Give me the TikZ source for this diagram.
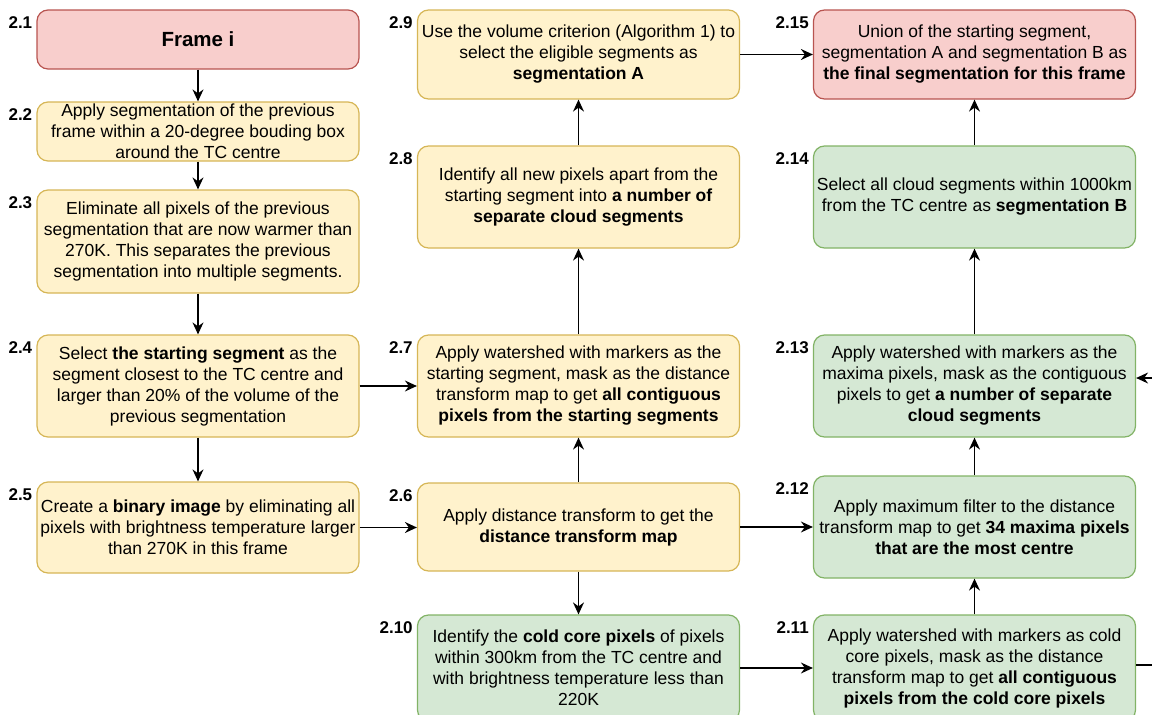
\documentclass[tikz,border=0pt]{standalone}
\usepackage{fontspec}
\setmainfont{Liberation Sans}
\usetikzlibrary{arrows.meta,calc}
\definecolor{yfill}{HTML}{FFF2CC}
\definecolor{yline}{HTML}{D6B656}
\definecolor{rfill}{HTML}{F8CECC}
\definecolor{rline}{HTML}{B85450}
\definecolor{gfill}{HTML}{D5E8D4}
\definecolor{gline}{HTML}{82B366}
\tikzset{
  box/.style={draw, rounded corners=11pt, line width=1.2pt, minimum width=322pt,
    align=center, inner sep=1pt, font=\fontsize{17.5}{21}\selectfont},
  ybox/.style={box, fill=yfill, draw=yline},
  rbox/.style={box, fill=rfill, draw=rline},
  gbox/.style={box, fill=gfill, draw=gline},
  lab/.style={anchor=east, font=\fontsize{17}{19}\selectfont\bfseries, inner sep=0pt},
  arr/.style={draw=black, line width=1.4pt, -{Stealth[length=12pt,width=11pt,inset=4pt]}}
}
\begin{document}
\begin{tikzpicture}[x=1pt,y=-1pt]
\useasboundingbox (0,0) rectangle (1152,715);
% column 1
\node[rbox, minimum height=59pt, font=\fontsize{20.5}{24}\selectfont] (n1) at (198,39.5) {\textbf{Frame i}};
\node[ybox, minimum height=59pt] (n2) at (198,131.5) {Apply segmentation of the previous\\frame within a 20-degree bouding box\\around the TC centre};
\node[ybox, minimum height=103pt] (n3) at (198,241.5) {Eliminate all pixels of the previous\\segmentation that are now warmer than\\270K. This separates the previous\\segmentation into multiple segments.};
\node[ybox, minimum height=102pt] (n4) at (198,386) {Select \textbf{the starting segment} as the\\segment closest to the TC centre and\\larger than 20\% of the volume of the\\previous segmentation};
\node[ybox, minimum height=91pt] (n5) at (198,527.5) {Create a \textbf{binary image} by eliminating all\\pixels with brightness temperature larger\\than 270K in this frame};
% column 2
\node[ybox, minimum height=88pt] (n6) at (578.5,527) {Apply distance transform to get the\\\textbf{distance transform map}};
\node[ybox, minimum height=102pt] (n7) at (578.5,386) {Apply watershed with markers as the\\starting segment, mask as the distance\\transform map to get \textbf{all contiguous}\\\textbf{pixels from the starting segments}};
\node[ybox, minimum height=102pt] (n8) at (578.5,197) {Identify all new pixels apart from the\\starting segment into \textbf{a number of}\\\textbf{separate cloud segments}};
\node[ybox, minimum height=89pt] (n9) at (578.5,54.5) {Use the volume criterion (Algorithm 1) to\\select the eligible segments as\\\textbf{segmentation A}};
\node[gbox, minimum height=106pt] (n10) at (578.5,668) {Identify the \textbf{cold core pixels} of pixels\\within 300km from the TC centre and\\with brightness temperature less than\\220K};
% column 3
\node[gbox, minimum height=106pt] (n11) at (974.5,668) {Apply watershed with markers as cold\\core pixels, mask as the distance\\transform map to get \textbf{all contiguous}\\\textbf{pixels from the cold core pixels}};
\node[gbox, minimum height=102pt] (n12) at (974.5,527) {Apply maximum filter to the distance\\transform map to get \textbf{34 maxima pixels}\\\textbf{that are the most centre}};
\node[gbox, minimum height=102pt] (n13) at (974.5,386) {Apply watershed with markers as the\\maxima pixels, mask as the contiguous\\pixels to get \textbf{a number of separate}\\\textbf{cloud segments}};
\node[gbox, minimum height=102pt] (n14) at (974.5,197) {Select all cloud segments within 1000km\\from the TC centre as \textbf{segmentation B}};
\node[rbox, minimum height=89pt] (n15) at (974.5,54.5) {Union of the starting segment,\\segmentation A and segmentation B as\\\textbf{the final segmentation for this frame}};
% labels
\foreach \n/\t in {n1/2.1,n2/2.2,n3/2.3,n4/2.4,n5/2.5,n6/2.6,n7/2.7,n8/2.8,n9/2.9,n10/2.10,n11/2.11,n12/2.12,n13/2.13,n14/2.14,n15/2.15}
  \node[lab] (l\n) at ($(\n.north west)+(-4,13)$) {\t};
% connectors
\draw[arr] (n1) -- (n2);
\draw[arr] (n2) -- (n3);
\draw[arr] (n3) -- (n4);
\draw[arr] (n4) -- (n5);
\draw[arr] (n4.east) -- (n7.west);
\draw[arr] (n5.east) -- (n5.east -| n6.west);
\draw[arr] (n6) -- (n7);
\draw[arr] (n7) -- (n8);
\draw[arr] (n8) -- (n9);
\draw[arr] (n9.east) -- (n15.west);
\draw[arr] (n6) -- (n10);
\draw[arr] (n6.east) -- (n6.east -| n12.west);
\draw[arr] (n10.east) -- (n11.west);
\draw[arr] (n11) -- (n12);
\draw[arr] (n12) -- (n13);
\draw[arr] (n13) -- (n14);
\draw[arr] (n14) -- (n15);
\coordinate (r) at (1175,665);
\draw[arr] (n11.east |- r) -- (r) |- ($(n13.east)+(0,-8)$);
\end{tikzpicture}
\end{document}
